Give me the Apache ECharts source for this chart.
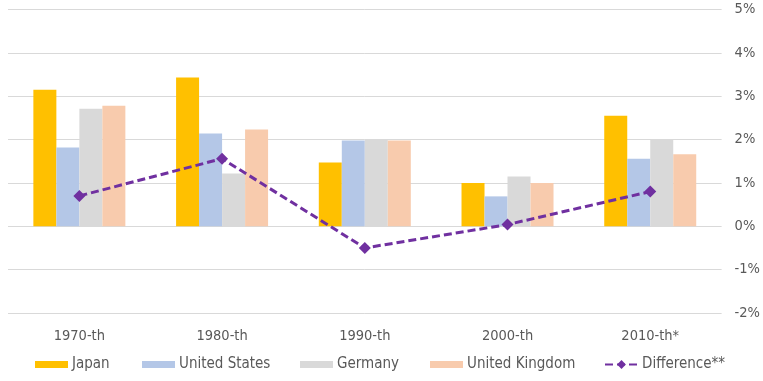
<!DOCTYPE html>
<html><head><meta charset="utf-8">
<script src="https://cdn.jsdelivr.net/npm/echarts@6/dist/echarts.min.js"></script>
<style>html,body{margin:0;padding:0;background:#fff}#c{width:763px;height:381px}</style>
</head><body><div id="c"></div>
<script>
const categories = ['1970-th','1980-th','1990-th','2000-th','2010-th*'];
const japan = [3.15, 3.43, 1.47, 1.00, 2.55];
const unitedStates = [1.82, 2.14, 1.98, 0.69, 1.56];
const germany = [2.71, 1.22, 2.00, 1.15, 2.00];
const unitedKingdom = [2.78, 2.23, 1.98, 1.00, 1.66];
const difference = [0.70, 1.56, -0.50, 0.04, 0.80];
const seriesNames = ['Japan','United States','Germany','United Kingdom','Difference**'];

const font = '"Liberation Sans Narrow", "DejaVu Sans Condensed", Lato, sans-serif';
const chart = echarts.init(document.getElementById('c'), null, {renderer:'canvas'});
function bar(name, data, color){
  return {name, type:'bar', data, barWidth:23, barGap:'0%', itemStyle:{color}, z:2};
}
const legendLefts = [35, 142, 300, 430, 604];
const legends = seriesNames.map((n,i)=>{
  const isLine = i === 4;
  return {
    top:357, left:legendLefts[i], padding:0, itemWidth:33, itemHeight: isLine ? 11 : 7, itemGap:0,
    icon: isLine ? undefined : 'rect',
    textStyle:{color:'#595959', fontSize:15, fontFamily:font, padding:[0,0,0,-1]},
    data:[n], selectedMode:false
  };
});
chart.setOption({
  animation:false,
  textStyle:{fontFamily:font},
  grid:{left:8, right:41, top:9.5, bottom:68, containLabel:false},
  legend:legends,
  xAxis:{
    type:'category', data:categories,
    axisLine:{show:false}, axisTick:{show:false},
    axisLabel:{color:'#595959', fontSize:14.5, margin:16, fontFamily:font}
  },
  yAxis:{
    type:'value', position:'right', min:-2, max:5, interval:1,
    axisLine:{show:false}, axisTick:{show:false},
    splitLine:{lineStyle:{color:'#D9D9D9', width:1}},
    axisLabel:{color:'#595959', fontSize:14.5, margin:13, align:'left', formatter:'{value}%', fontFamily:font}
  },
  series:[
    bar(seriesNames[0], japan, '#FFC000'),
    bar(seriesNames[1], unitedStates, '#B4C7E7'),
    bar(seriesNames[2], germany, '#D9D9D9'),
    bar(seriesNames[3], unitedKingdom, '#F8CBAD'),
    {name:seriesNames[4], type:'line', data:difference, symbol:'diamond', symbolSize:12,
     lineStyle:{color:'#7030A0', width:3, type:[8,4]}, itemStyle:{color:'#7030A0'}, z:5}
  ]
});
</script></body></html>
